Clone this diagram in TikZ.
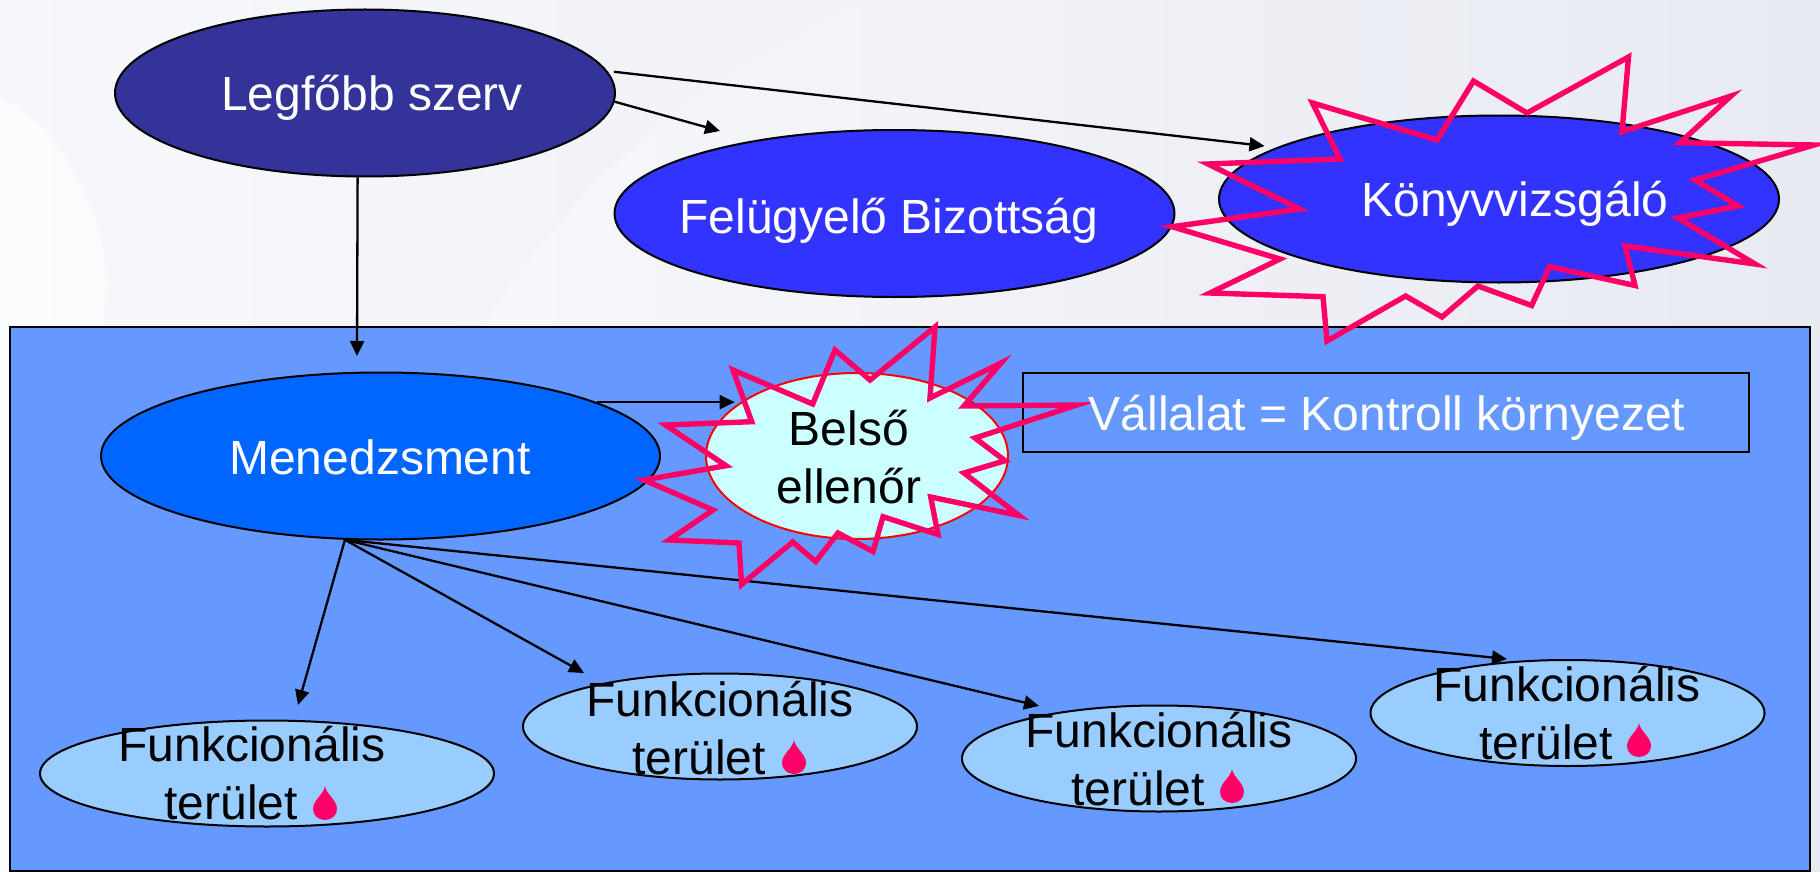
\documentclass[tikz,border=0pt]{standalone}
\usepackage{fontspec}
\setmainfont{Liberation Sans}
\usetikzlibrary{shapes.geometric,arrows.meta}
\definecolor{cdark}{HTML}{333399}
\definecolor{cblue}{HTML}{3333FF}
\definecolor{cmen}{HTML}{0066FF}
\definecolor{cback}{HTML}{6699FF}
\definecolor{cfun}{HTML}{99CCFF}
\definecolor{cbel}{HTML}{CCFFFF}
\definecolor{cstar}{HTML}{FF0066}
\definecolor{bgl}{HTML}{FAFCFD}
\definecolor{bgr}{HTML}{E8EAF2}
\tikzset{
  x=1pt,y=-1pt,
  oval/.style={ellipse,draw=black,line width=2pt,inner sep=0pt},
  big/.style={oval,minimum width=560pt,minimum height=167pt},
  fun/.style={oval,fill=cfun,minimum width=394pt,minimum height=106pt},
  conn/.style={draw=black,line width=2.3pt,-{Triangle[length=15pt,width=14pt]}},
  burst/.style={draw=cstar,line width=5.4pt,line join=miter,miter limit=10},
  lbl/.style={inner sep=0pt,outer sep=0pt,anchor=base,font=\fontsize{48}{58}\selectfont},
  flbl/.style={lbl,anchor=center,align=center},
  droplet/.pic={\fill[cstar] (0,0) .. controls (1,8) and (12,14) .. (12,23) .. controls (12,29) and (7,34) .. (0,34) .. controls (-7,34) and (-12,29) .. (-12,23) .. controls (-12,14) and (-1,8) .. (0,0) -- cycle;}
}
\begin{document}
\begin{tikzpicture}
\useasboundingbox (0,0) rectangle (1820,872);
\shade[left color=bgl,right color=bgr] (0,0) rectangle (1820,872);
\fill[bgr,opacity=.18] (0,0) -- (860,0) .. controls (620,120) and (540,240) .. (480,330) -- (100,330) .. controls (130,240) and (60,120) .. (0,100) -- cycle;
\node[draw=black,line width=2pt,fill=cback,minimum width=1800pt,minimum height=544pt,inner sep=0pt] (corp) at (909.5,599) {};
\node[draw=black,line width=2pt,minimum width=726pt,minimum height=79pt,inner sep=0pt] (cbox) at (1386,412.5) {};
\node[oval,fill=cdark,minimum width=500pt,minimum height=167pt] (leg) at (365,93) {};
\node[big,fill=cblue] (fel) at (894.5,213.5) {};
\node[big,fill=cblue] (kon) at (1499,199) {};
\node[oval,fill=cmen,minimum width=559pt,minimum height=167pt] (men) at (380.5,456) {};
\node[ellipse,draw=red,line width=2pt,fill=cbel,inner sep=0pt,minimum width=302pt,minimum height=166pt] (bel) at (857,456) {};
\node[fun,minimum width=454pt] (fa) at (267,773.5) {};
\node[fun] (fb) at (720,726.5) {};
\node[fun] (fc) at (1159,758.5) {};
\node[fun] (fd) at (1567.5,713) {};
\coordinate (tfel) at (720,131);
\coordinate (tkon) at (1264.5,146);
\coordinate (tmen) at (357,356);
\coordinate (ta) at (298,705);
\coordinate (tb) at (584,673);
\coordinate (tc) at (1039,706);
\coordinate (td) at (1507,659);
\draw[conn] ([xshift=6pt]leg.5) -- (tkon);
\draw[conn] (leg.-2.5) -- (tfel);
\draw[conn] (leg.-95.5) -- (tmen);
\draw[conn,shorten >=4pt] (men.14) -- (bel.156.5 |- men.14);
\draw[conn] (men.-113.5) -- (ta);
\draw[conn] (men.-113.5) -- (tb);
\draw[conn] (men.-113.5) -- (tc);
\draw[conn] (men.-113.5) -- (td);
\draw[burst] (1312.5,103) -- (1437,140) -- (1473.5,81) -- (1527,113) -- (1628.5,57) -- (1622,131.7) -- (1731,96) -- (1680,142.7) -- (1814,145) -- (1695,180) -- (1738,206) -- (1678,218) -- (1755,264) -- (1625,246) -- (1635,285.5) -- (1549.6,266.7) -- (1531.6,305.5) -- (1478,286) -- (1442,317) -- (1405.6,296) -- (1327,341) -- (1323,296.7) -- (1210,293) -- (1280,259) -- (1172,226.7) -- (1299.6,209) -- (1208,164) -- (1340,159) -- cycle;
\draw[burst] (733,370) -- (812.7,404) -- (835,350) -- (870,380) -- (935,327) -- (930,398) -- (1001,363) -- (964,406) -- (1077,405) -- (975,438) -- (1005,460.7) -- (964,473) -- (1019,515.5) -- (930.7,497) -- (938,534.5) -- (883,516.7) -- (873,551.5) -- (838,533) -- (815.7,561.5) -- (792.7,542) -- (741.5,584.5) -- (739,543) -- (669,540) -- (713,510) -- (644,480) -- (726,465.7) -- (665.5,425) -- (751.7,421.7) -- cycle;
\node[lbl,text=white] (tleg) at (372,111) {Legfőbb szerv};
\node[lbl,text=white] (tfel2) at (889,233) {Felügyelő Bizottság};
\node[lbl,text=white] (tkon2) at (1515,216) {Könyvvizsgáló};
\node[lbl,text=white] (tmen2) at (380,474) {Menedzsment};
\node[lbl,text=white] (tcbox) at (1387,430) {Vállalat = Kontroll környezet};
\node[flbl] (tbel) at (849,457) {Belső\\ellenőr};
\node[flbl] (tfa) at (252,773) {Funkcionális\\terület\hbox to 42pt{}};
\node[flbl] (tfb) at (720,728) {Funkcionális\\terület\hbox to 42pt{}};
\node[flbl] (tfc) at (1159,759) {Funkcionális\\terület\hbox to 42pt{}};
\node[flbl] (tfd) at (1567,713) {Funkcionális\\terület\hbox to 42pt{}};
\pic at (325,786) {droplet};
\pic at (794,740) {droplet};
\pic at (1232,769) {droplet};
\pic at (1639,723) {droplet};
\end{tikzpicture}
\end{document}
